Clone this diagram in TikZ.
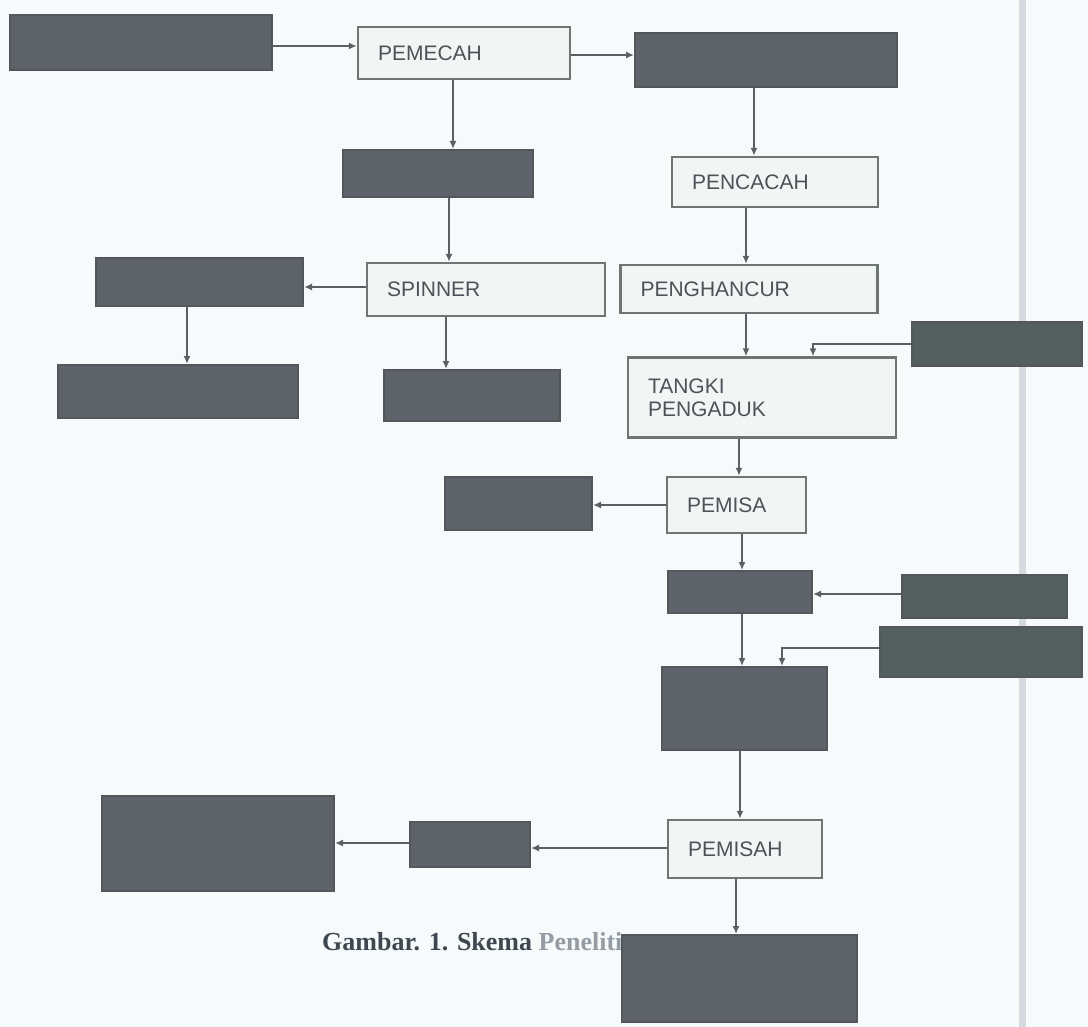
\documentclass[tikz,border=0pt]{standalone}
\usepackage{fontspec}
\setmainfont{Liberation Serif}
\setsansfont{Liberation Sans}
\usetikzlibrary{arrows.meta}
\definecolor{bg}{HTML}{F6FAFB}
\definecolor{darkfill}{HTML}{5D6368}
\definecolor{darkdraw}{HTML}{51575B}
\definecolor{tealfill}{HTML}{54605F}
\definecolor{whitefill}{HTML}{F1F5F4}
\definecolor{whitedraw}{HTML}{6E7674}
\definecolor{txtcol}{HTML}{4C5258}
\definecolor{arrcol}{HTML}{5A5F63}
\definecolor{pageline}{HTML}{D5DAE0}
\definecolor{capcol}{HTML}{3F4850}
\definecolor{faint}{HTML}{959CA4}
\tikzset{
  darkbox/.style={draw=darkdraw, fill=darkfill, line width=2pt, inner sep=0pt},
  tealbox/.style={darkbox, fill=tealfill},
  whitebox/.style={draw=whitedraw, fill=whitefill, line width=2.4pt, inner xsep=20pt, inner ysep=0pt,
     align=left, text=txtcol, font=\sffamily\fontsize{21}{24}\selectfont, anchor=center},
  arr/.style={draw=arrcol, line width=2pt, -{Latex[length=8pt,width=7pt]}},
}
\begin{document}
\begin{tikzpicture}[x=1pt,y=-1pt]
\useasboundingbox (0,0) rectangle (1088,1027);
\fill[bg] (0,0) rectangle (1088,1027);
% page edge line
\coordinate (pt) at (1022,0);
\coordinate (pb) at (1022,1027);
\draw[pageline, line width=7pt] (pt) -- (pb);
% caption (partly hidden by the bottom box)
\node[anchor=base west, inner sep=0pt, text=capcol, font=\bfseries\fontsize{26}{28}\selectfont] (cap) at (322,950) {Gambar. 1. Skema \textcolor{faint}{Penelitian}};
% nodes
\node[darkbox, minimum width=262pt, minimum height=55pt] (n1) at (141,42.5) {};
\node[whitebox, minimum height=52pt, text width=172pt] (n2) at (464,53) {PEMECAH};
\node[darkbox, minimum width=262pt, minimum height=54pt] (n3) at (766,60) {};
\node[darkbox, minimum width=190pt, minimum height=47pt] (n4) at (438,173.5) {};
\node[whitebox, minimum height=50pt, text width=166pt] (n5) at (775,182) {PENCACAH};
\node[whitebox, minimum height=53pt, text width=198pt] (n6) at (486,289.5) {SPINNER};
\node[darkbox, minimum width=207pt, minimum height=48pt] (n7) at (199.5,282) {};
\node[darkbox, minimum width=240pt, minimum height=53pt] (n8) at (178,391.5) {};
\node[darkbox, minimum width=176pt, minimum height=51pt] (n9) at (472,395.5) {};
\node[whitebox, minimum height=48pt, text width=217pt] (n10) at (749,289) {PENGHANCUR};
\node[tealbox, minimum width=170pt, minimum height=43pt] (n11) at (997,344) {};
\node[whitebox, minimum height=80pt, text width=228pt, font=\sffamily\fontsize{21}{23}\selectfont] (n12) at (762,397.5) {TANGKI\\PENGADUK};
\node[whitebox, minimum height=56pt, text width=99pt] (n13) at (736.5,505) {PEMISA};
\node[darkbox, minimum width=147pt, minimum height=53pt] (n14) at (518.5,503.5) {};
\node[darkbox, minimum width=144pt, minimum height=42pt] (n15) at (740,592) {};
\node[tealbox, minimum width=165pt, minimum height=43pt] (n16) at (984,596) {};
\node[tealbox, minimum width=202pt, minimum height=50pt] (n17) at (981,652) {};
\node[darkbox, minimum width=165pt, minimum height=83pt] (n18) at (744.5,708.5) {};
\node[whitebox, minimum height=58pt, text width=114pt] (n19) at (745,849) {PEMISAH};
\node[darkbox, minimum width=120pt, minimum height=45pt] (n20) at (470,844.5) {};
\node[darkbox, minimum width=232pt, minimum height=95pt] (n21) at (218,843.5) {};
\node[darkbox, minimum width=235pt, minimum height=87pt] (n22) at (739.5,978.5) {};
% connectors
\draw[arr] (n1.east |- 0,46) -- (n2.west |- 0,46);
\draw[arr] (n2.east |- 0,55) -- (n3.west |- 0,55);
\draw[arr] (n2.south -| 453,0) -- (n4.north -| 453,0);
\draw[arr] (n3.south -| 754,0) -- (n5.north -| 754,0);
\draw[arr] (n4.south -| 449,0) -- (n6.north -| 449,0);
\draw[arr] (n6.west |- 0,287) -- (n7.east |- 0,287);
\draw[arr] (n7.south -| 187,0) -- (n8.north -| 187,0);
\draw[arr] (n6.south -| 446,0) -- (n9.north -| 446,0);
\draw[arr] (n5.south -| 746,0) -- (n10.north -| 746,0);
\draw[arr] (n10.south -| 746,0) -- (n12.north -| 746,0);
\draw[arr] (n11.west |- 0,344) -| (n12.north -| 813,0);
\draw[arr] (n12.south -| 739,0) -- (n13.north -| 739,0);
\draw[arr] (n13.west |- 0,505) -- (n14.east |- 0,505);
\draw[arr] (n13.south -| 742,0) -- (n15.north -| 742,0);
\draw[arr] (n16.west |- 0,594) -- (n15.east |- 0,594);
\draw[arr] (n15.south -| 742,0) -- (n18.north -| 742,0);
\draw[arr] (n17.west |- 0,648) -| (n18.north -| 782,0);
\draw[arr] (n18.south -| 740,0) -- (n19.north -| 740,0);
\draw[arr] (n19.west |- 0,848) -- (n20.east |- 0,848);
\draw[arr] (n20.west |- 0,843) -- (n21.east |- 0,843);
\draw[arr] (n19.south -| 736,0) -- (n22.north -| 736,0);
\end{tikzpicture}
\end{document}
